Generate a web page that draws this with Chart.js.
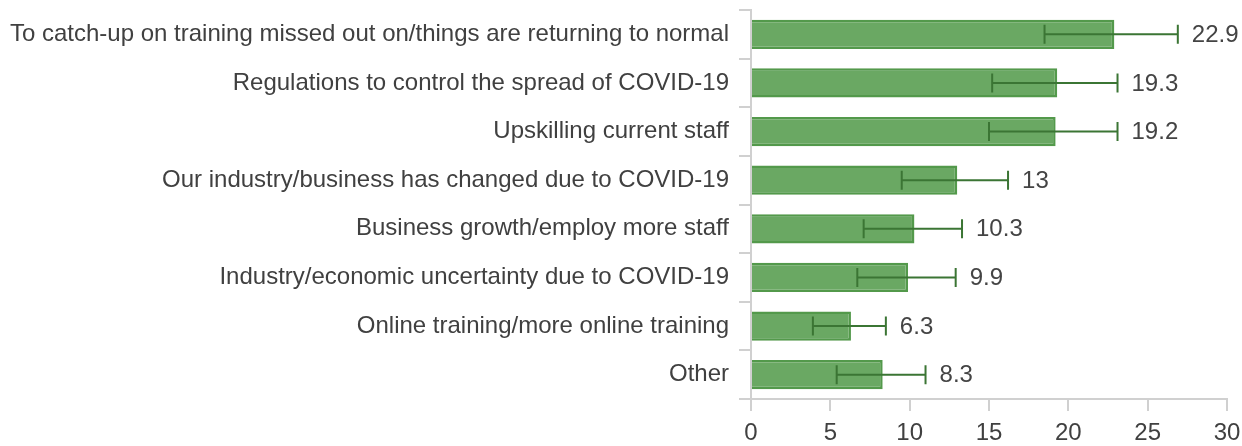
<!DOCTYPE html>
<html>
<head>
<meta charset="utf-8">
<script src="https://cdn.jsdelivr.net/npm/chart.js@4"></script>
<style>
  html, body { margin: 0; padding: 0; background: #fff; }
  #wrap { width: 1242px; height: 446px; }
</style>
</head>
<body>
<div id="wrap"><canvas id="chart"></canvas></div>
<script>
var categories = [
    "To catch-up on training missed out on/things are returning to normal",
    "Regulations to control the spread of COVID-19",
    "Upskilling current staff",
    "Our industry/business has changed due to COVID-19",
    "Business growth/employ more staff",
    "Industry/economic uncertainty due to COVID-19",
    "Online training/more online training",
    "Other"
]
var values = [22.9, 19.3, 19.2, 13, 10.3, 9.9, 6.3, 8.3]
var errLow = [18.5, 15.2, 15.0, 9.5, 7.1, 6.7, 3.9, 5.4]
var errHigh = [26.9, 23.1, 23.1, 16.2, 13.3, 12.9, 8.5, 11.0]
var xTicks = [0, 5, 10, 15, 20, 25, 30]

var FONT = "'Liberation Sans', Arial, sans-serif"

// error bars + value labels, drawn through the scales
var errorBars = {
    id: 'errorBars',
    afterDatasetsDraw: function (chart) {
        var ctx = chart.ctx
        var x = chart.scales.x
        var y = chart.scales.y
        ctx.save()
        values.forEach(function (v, i) {
            var cy = y.getPixelForValue(i)
            var x0 = x.getPixelForValue(errLow[i])
            var x1 = x.getPixelForValue(errHigh[i])
            ctx.strokeStyle = '#3b7534'
            ctx.lineWidth = 2
            ctx.beginPath()
            ctx.moveTo(x0, cy); ctx.lineTo(x1, cy)
            ctx.moveTo(x0, cy - 9.5); ctx.lineTo(x0, cy + 9.5)
            ctx.moveTo(x1, cy - 9.5); ctx.lineTo(x1, cy + 9.5)
            ctx.stroke()
            ctx.fillStyle = '#444'
            ctx.font = '24px ' + FONT
            ctx.textAlign = 'left'
            ctx.textBaseline = 'middle'
            ctx.fillText(String(v), x1 + 14, cy + 1)
        })
        ctx.restore()
    }
}

new Chart(document.getElementById('chart'), {
    type: 'bar',
    data: {
        labels: categories,
        datasets: [{
            data: values,
            backgroundColor: '#6aa863',
            borderColor: '#53994b',
            borderWidth: 2.5,
            barPercentage: 0.6,
            categoryPercentage: 1
        }]
    },
    options: {
        indexAxis: 'y',
        responsive: true,
        maintainAspectRatio: false,
        animation: false,
        layout: { padding: { top: 10, right: 15, bottom: 0, left: 0 } },
        plugins: {
            legend: { display: false },
            tooltip: { enabled: false }
        },
        scales: {
            x: {
                min: 0,
                max: 30,
                afterBuildTicks: function (scale) {
                    scale.ticks = xTicks.map(function (v) { return { value: v } })
                },
                afterFit: function (scale) {
                    scale.height = 47
                    scale.paddingLeft = 0
                    scale.paddingRight = 0
                },
                grid: { drawOnChartArea: false, tickLength: 12, color: '#d0d0d0', lineWidth: 2 },
                border: { color: '#d0d0d0', width: 2 },
                ticks: { color: '#404040', font: { family: FONT, size: 24 }, padding: 8, maxRotation: 0 }
            },
            y: {
                afterFit: function (scale) {
                    scale.width = 751
                    scale.paddingTop = 0
                    scale.paddingBottom = 0
                },
                grid: { drawOnChartArea: false, tickLength: 12, color: '#d0d0d0', lineWidth: 2 },
                border: { color: '#d0d0d0', width: 2 },
                ticks: { color: '#404040', font: { family: FONT, size: 24 }, padding: 10, autoSkip: false }
            }
        }
    },
    plugins: [errorBars]
})
</script>
</body>
</html>
